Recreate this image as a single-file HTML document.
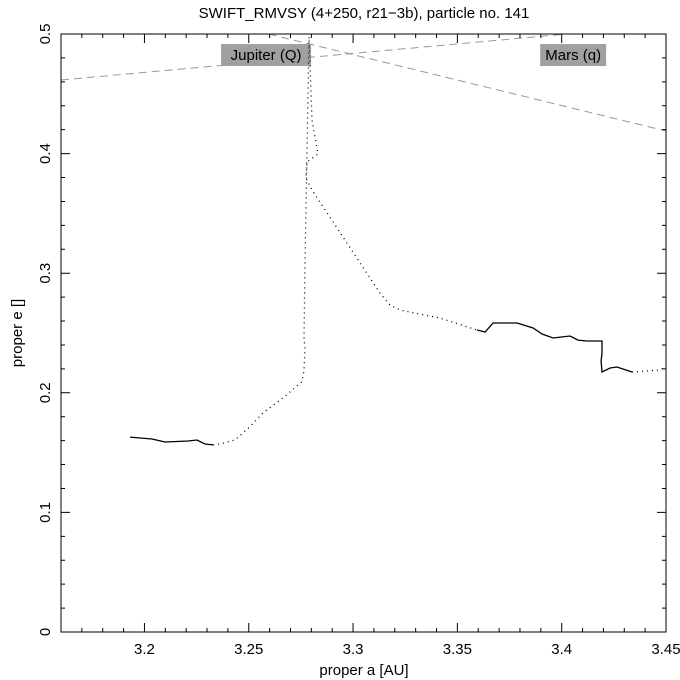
<!DOCTYPE html>
<html><head><meta charset="utf-8"><style>
html,body{margin:0;padding:0;background:#fff;}
svg{display:block;font-family:"Liberation Sans",sans-serif;}
</style></head><body>
<svg id="chart" width="680" height="680" viewBox="0 0 680 680" xmlns="http://www.w3.org/2000/svg">
<rect x="0" y="0" width="680" height="680" fill="#fff"/>
<text x="364" y="18" font-size="15" text-anchor="middle">SWIFT_RMVSY (4+250, r21−3b), particle no. 141</text>
<text x="364" y="675" font-size="15" text-anchor="middle">proper a [AU]</text>
<text transform="translate(22,333) rotate(-90)" font-size="15" text-anchor="middle">proper e []</text>
<g id="guides"></g>
<g id="series"></g>
<g id="axes"></g>
</svg>
<script>
const xTicks = [3.2, 3.25, 3.3, 3.35, 3.4, 3.45];
const xTickLabels = ["3.2", "3.25", "3.3", "3.35", "3.4", "3.45"];
const yTicks = [0, 0.1, 0.2, 0.3, 0.4, 0.5];
const yTickLabels = ["0", "0.1", "0.2", "0.3", "0.4", "0.5"];
const solidLeft = [[3.1931,0.1630],[3.2036,0.1614],[3.2099,0.1589],[3.2209,0.1597],[3.2252,0.1605],[3.2290,0.1572],[3.2329,0.1564]];
const dottedMid = [[3.2329,0.1564],[3.2362,0.1572],[3.2434,0.1605],[3.2506,0.1717],[3.2568,0.1831],[3.2664,0.1957],[3.2755,0.2093],[3.2765,0.2191],[3.2770,0.2383],[3.2765,0.2441],[3.2770,0.3135],[3.2789,0.4975],[3.2803,0.4281],[3.2832,0.3997],[3.2779,0.3930],[3.2774,0.3796],[3.2803,0.3696],[3.3129,0.2834],[3.3177,0.2734],[3.3225,0.2692],[3.3417,0.2625],[3.3594,0.2525]];
const solidRight = [[3.3594,0.2525],[3.3633,0.2508],[3.3671,0.2584],[3.3786,0.2584],[3.3863,0.2542],[3.3906,0.2492],[3.3959,0.2458],[3.4040,0.2475],[3.4078,0.2441],[3.4122,0.2433],[3.4193,0.2433],[3.4193,0.2333],[3.4189,0.2266],[3.4193,0.2174],[3.4232,0.2207],[3.4265,0.2216],[3.4337,0.2174]];
const dottedRight = [[3.4337,0.2174],[3.4471,0.2191],[3.4495,0.2216]];
const jupiterLine = [[3.16,0.4615],[3.4023,0.5]];
const marsLine = [[3.2595,0.5],[3.45,0.4189]];
const labels = ["Jupiter (Q)", "Mars (q)"];
const labelPos = [[3.2583,0.4824],[3.4055,0.4824]];

const X0=61, X1=666, Y0=632, Y1=34, A0=3.16, A1=3.45, E0=0, E1=0.5;
const sx = a => X0 + (a-A0)/(A1-A0)*(X1-X0);
const sy = e => Y0 - (e-E0)/(E1-E0)*(Y0-Y1);
const NS="http://www.w3.org/2000/svg";
function mk(tag, parent){const el=document.createElementNS(NS,tag);parent.appendChild(el);return el;}
const guides=document.getElementById('guides'), series=document.getElementById('series'), axes=document.getElementById('axes');
function pathD(pts){return pts.map((p,i)=>(i?'L':'M')+sx(p[0]).toFixed(1)+','+sy(p[1]).toFixed(1)).join(' ');}

[[jupiterLine,'jupiter-aphelion-line'],[marsLine,'mars-perihelion-line']].forEach(([pts,name])=>{
  const p=mk('path',guides);
  
  
  p.setAttribute('d',pathD(pts));p.setAttribute('stroke','#999');p.setAttribute('fill','none');p.setAttribute('stroke-dasharray','8 5');
});
labels.forEach((t,i)=>{
  const g=mk('g',guides);
  
  
  const cx=sx(labelPos[i][0]), cy=sy(labelPos[i][1]);
  const w=t.length*8+2;
  const r=mk('rect',g);r.setAttribute('x',cx-w/2);r.setAttribute('y',cy-11);r.setAttribute('width',w);r.setAttribute('height',22);r.setAttribute('fill','#a0a0a0');
  const tx=mk('text',g);tx.setAttribute('x',cx);tx.setAttribute('y',cy+5);tx.setAttribute('text-anchor','middle');tx.setAttribute('font-size','15');tx.textContent=t;
});
[[solidLeft,'solid','trajectory-solid-left'],[dottedMid,'dot','trajectory-dotted-mid'],[solidRight,'solid','trajectory-solid-right'],[dottedRight,'dot','trajectory-dotted-right']].forEach(([pts,st,name])=>{
  const p=mk('path',series);
  
  
  p.setAttribute('d',pathD(pts));p.setAttribute('fill','none');p.setAttribute('stroke','#000');
  if(st==='dot'){p.setAttribute('stroke-dasharray','1 4');p.setAttribute('stroke-width','1.3');}else p.setAttribute('stroke-width','1.3');
});
const frame=mk('rect',axes);


frame.setAttribute('x',X0);frame.setAttribute('y',Y1);frame.setAttribute('width',X1-X0);frame.setAttribute('height',Y0-Y1);frame.setAttribute('fill','none');frame.setAttribute('stroke','#000');
let tk='';
for(let i=0;i<=29;i++){const a=A0+i*0.01;const x=sx(a);const major=Math.abs(Math.round(a*20)-a*20)<1e-6;const L=major?9:4;tk+=`M${x},${Y0}v${-L}M${x},${Y1}v${L}`;}
for(let i=0;i<=25;i++){const e=i*0.02;const y=sy(e);const major=i%5===0;const L=major?9:4;tk+=`M${X0},${y}h${L}M${X1},${y}h${-L}`;}
const tp=mk('path',axes);


tp.setAttribute('d',tk);tp.setAttribute('stroke','#000');
xTicks.forEach((v,i)=>{
  const t=mk('text',axes);
  
  
  t.setAttribute('x',sx(v));t.setAttribute('y',654);t.setAttribute('font-size','15');t.setAttribute('text-anchor','middle');t.textContent=xTickLabels[i];
});
yTicks.forEach((v,i)=>{
  const t=mk('text',axes);
  
  
  t.setAttribute('transform',`translate(50,${sy(v)}) rotate(-90)`);t.setAttribute('font-size','15');t.setAttribute('text-anchor','middle');t.textContent=yTickLabels[i];
});
</script>
</body></html>
